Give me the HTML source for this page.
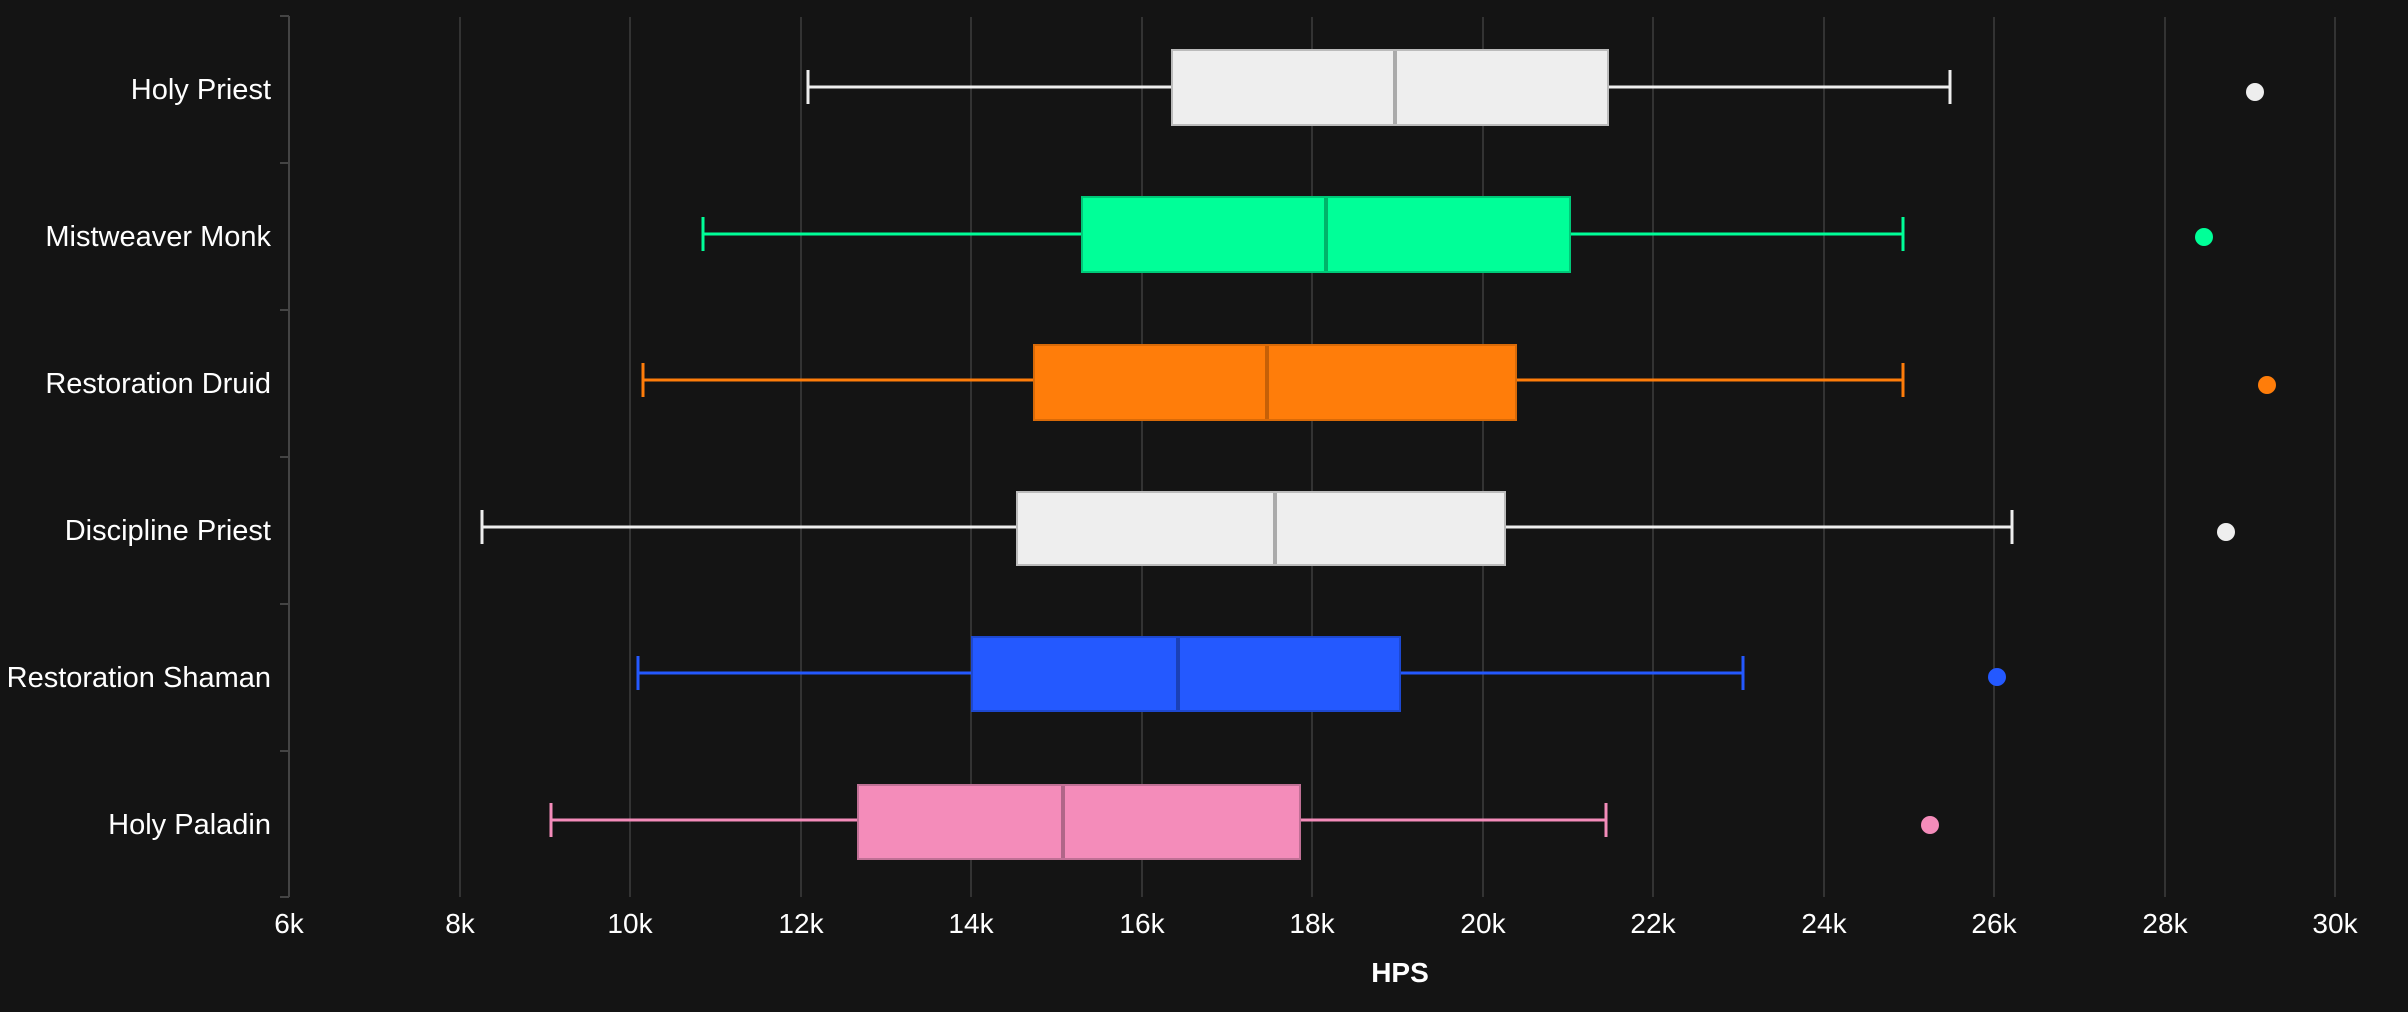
<!DOCTYPE html>
<html><head><meta charset="utf-8"><style>
html,body{margin:0;padding:0;background:#141414;}
svg{display:block}
text{font-family:"Liberation Sans",sans-serif;fill:#fff;font-size:28px}
</style></head><body>
<svg width="2408" height="1012" viewBox="0 0 2408 1012" xmlns="http://www.w3.org/2000/svg">
<rect width="2408" height="1012" fill="#141414"/>
<g stroke="#333" stroke-width="2">
<line x1="460" y1="17" x2="460" y2="897"/><line x1="630" y1="17" x2="630" y2="897"/>
<line x1="801" y1="17" x2="801" y2="897"/><line x1="971" y1="17" x2="971" y2="897"/>
<line x1="1142" y1="17" x2="1142" y2="897"/><line x1="1312" y1="17" x2="1312" y2="897"/>
<line x1="1483" y1="17" x2="1483" y2="897"/><line x1="1653" y1="17" x2="1653" y2="897"/>
<line x1="1824" y1="17" x2="1824" y2="897"/><line x1="1994" y1="17" x2="1994" y2="897"/>
<line x1="2165" y1="17" x2="2165" y2="897"/><line x1="2335" y1="17" x2="2335" y2="897"/>
</g>
<g stroke="#444" stroke-width="2">
<line x1="289" y1="16" x2="289" y2="897"/>
<line x1="280" y1="16" x2="289" y2="16"/><line x1="280" y1="163" x2="289" y2="163"/>
<line x1="280" y1="310" x2="289" y2="310"/><line x1="280" y1="457" x2="289" y2="457"/>
<line x1="280" y1="604" x2="289" y2="604"/><line x1="280" y1="751" x2="289" y2="751"/>
<line x1="280" y1="897" x2="289" y2="897"/>
</g>
<g text-anchor="end" font-size="29">
<text x="271" y="99" style="font-size:29px">Holy Priest</text>
<text x="271" y="246" style="font-size:29px">Mistweaver Monk</text>
<text x="271" y="393" style="font-size:29px">Restoration Druid</text>
<text x="271" y="540" style="font-size:29px">Discipline Priest</text>
<text x="271" y="687" style="font-size:29px">Restoration Shaman</text>
<text x="271" y="834" style="font-size:29px">Holy Paladin</text>
</g>
<g text-anchor="middle">
<text x="289" y="933">6k</text><text x="460" y="933">8k</text><text x="630" y="933">10k</text>
<text x="801" y="933">12k</text><text x="971" y="933">14k</text><text x="1142" y="933">16k</text>
<text x="1312" y="933">18k</text><text x="1483" y="933">20k</text><text x="1653" y="933">22k</text>
<text x="1824" y="933">24k</text><text x="1994" y="933">26k</text><text x="2165" y="933">28k</text>
<text x="2335" y="933">30k</text>
<text x="1400" y="982" font-weight="bold">HPS</text>
</g>
<!-- Holy Priest -->
<g stroke="#eeeeee" stroke-width="3"><line x1="808" y1="87" x2="1950" y2="87"/><line x1="808" y1="70" x2="808" y2="104"/><line x1="1950" y1="70" x2="1950" y2="104"/></g>
<rect x="1172" y="50" width="436" height="75" fill="#eeeeee" stroke="#bbb" stroke-width="2"/>
<line x1="1395" y1="51" x2="1395" y2="124" stroke="#aaa" stroke-width="4"/>
<circle cx="2255" cy="92" r="9" fill="#eeeeee"/>
<!-- Monk -->
<g stroke="#00ff98" stroke-width="3"><line x1="703" y1="234" x2="1903" y2="234"/><line x1="703" y1="217" x2="703" y2="251"/><line x1="1903" y1="217" x2="1903" y2="251"/></g>
<rect x="1082" y="197" width="488" height="75" fill="#00ff98" stroke="#00c878" stroke-width="2"/>
<line x1="1326" y1="198" x2="1326" y2="271" stroke="#00b36a" stroke-width="4"/>
<circle cx="2204" cy="237" r="9" fill="#00ff98"/>
<!-- Druid -->
<g stroke="#ff7d0a" stroke-width="3"><line x1="643" y1="380" x2="1903" y2="380"/><line x1="643" y1="363" x2="643" y2="397"/><line x1="1903" y1="363" x2="1903" y2="397"/></g>
<rect x="1034" y="345" width="482" height="75" fill="#ff7d0a" stroke="#d96a08" stroke-width="2"/>
<line x1="1267" y1="346" x2="1267" y2="419" stroke="#c66007" stroke-width="4"/>
<circle cx="2267" cy="385" r="9" fill="#ff7d0a"/>
<!-- Disc -->
<g stroke="#eeeeee" stroke-width="3"><line x1="482" y1="527" x2="2012" y2="527"/><line x1="482" y1="510" x2="482" y2="544"/><line x1="2012" y1="510" x2="2012" y2="544"/></g>
<rect x="1017" y="492" width="488" height="73" fill="#eeeeee" stroke="#bbb" stroke-width="2"/>
<line x1="1275" y1="493" x2="1275" y2="564" stroke="#aaa" stroke-width="4"/>
<circle cx="2226" cy="532" r="9" fill="#eeeeee"/>
<!-- Shaman -->
<g stroke="#2459ff" stroke-width="3"><line x1="638" y1="673" x2="1743" y2="673"/><line x1="638" y1="656" x2="638" y2="690"/><line x1="1743" y1="656" x2="1743" y2="690"/></g>
<rect x="972" y="637" width="428" height="74" fill="#2459ff" stroke="#1d48d0" stroke-width="2"/>
<line x1="1178" y1="638" x2="1178" y2="710" stroke="#1a40b8" stroke-width="4"/>
<circle cx="1997" cy="677" r="9" fill="#2459ff"/>
<!-- Paladin -->
<g stroke="#f48cba" stroke-width="3"><line x1="551" y1="820" x2="1606" y2="820"/><line x1="551" y1="803" x2="551" y2="837"/><line x1="1606" y1="803" x2="1606" y2="837"/></g>
<rect x="858" y="785" width="442" height="74" fill="#f48cba" stroke="#c07095" stroke-width="2"/>
<line x1="1063" y1="786" x2="1063" y2="858" stroke="#b06688" stroke-width="4"/>
<circle cx="1930" cy="825" r="9" fill="#f48cba"/>
</svg>
</body></html>
